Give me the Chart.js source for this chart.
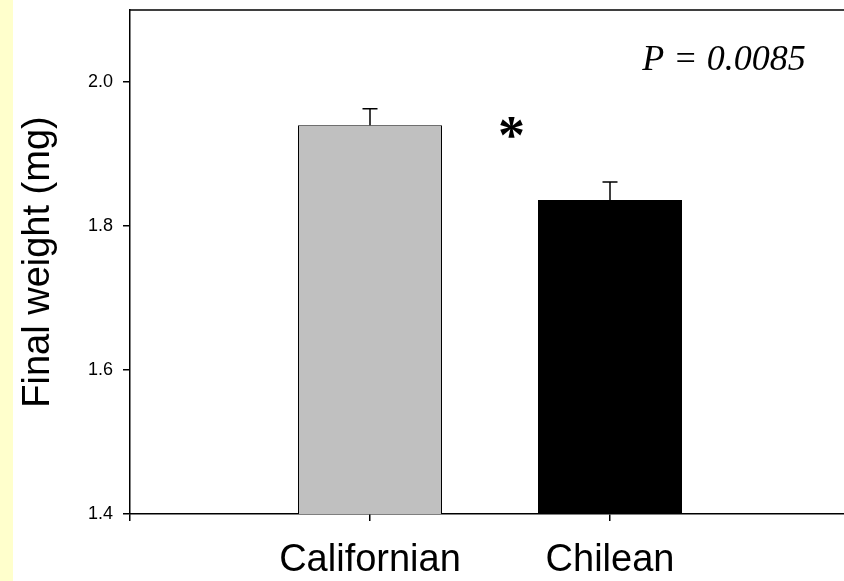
<!DOCTYPE html>
<html>
<head>
<meta charset="utf-8">
<script src="https://cdn.jsdelivr.net/npm/chart.js@4/dist/chart.umd.min.js"></script>
<style>
  html, body { margin: 0; padding: 0; background: #ffffff; overflow: hidden; width: 844px; height: 581px; }
  #wrap { width: 860px; height: 581px; }
</style>
</head>
<body>
<div id="wrap"><canvas id="c" width="860" height="581"></canvas></div>
<script>
// ---- data ----
const categories = ["Californian", "Chilean"];
const means = [1.940, 1.836];
const stdErrors = [0.023, 0.025];
const yTickValues = [1.4, 1.6, 1.8, 2.0];
const barColors = ["#c0c0c0", "#000000"];
const pLabel = "P = 0.0085";
const sigMark = "*";

// category axis with empty end slots (positions 0 and 3)
const labels = ["", ...categories, ""];
const barData = [null, ...means, null];
const errData = [null, ...stdErrors, null];
const colors = ["#ffffff", ...barColors, "#ffffff"];

const FONT = "Arial, 'Liberation Sans', Helvetica, sans-serif";

const bgPlugin = {
  id: 'bg',
  beforeDraw(chart) {
    const ctx = chart.ctx;
    ctx.save();
    ctx.fillStyle = '#ffffff';
    ctx.fillRect(0, 0, chart.width, chart.height);
    ctx.fillStyle = '#ffffcc';
    ctx.fillRect(0, 0, 13, chart.height);
    ctx.restore();
  }
};

const errorBarPlugin = {
  id: 'errorBars',
  afterDatasetsDraw(chart) {
    const ctx = chart.ctx;
    const meta = chart.getDatasetMeta(0);
    const y = chart.scales.y;
    ctx.save();
    ctx.strokeStyle = '#000000';
    ctx.lineWidth = 1.5;
    meta.data.forEach((bar, i) => {
      const v = barData[i], e = errData[i];
      if (v == null || e == null) return;
      const yTop = y.getPixelForValue(v + e);
      const yBase = y.getPixelForValue(v);
      ctx.beginPath();
      ctx.moveTo(bar.x, yBase);
      ctx.lineTo(bar.x, yTop);
      ctx.moveTo(bar.x - 7.5, yTop);
      ctx.lineTo(bar.x + 7.5, yTop);
      ctx.stroke();
    });
    ctx.restore();
  }
};

const framePlugin = {
  id: 'frame',
  afterDraw(chart) {
    const {ctx, chartArea, scales} = chart;
    ctx.save();
    ctx.strokeStyle = '#000000';
    ctx.lineWidth = 1.5;
    ctx.beginPath();
    ctx.moveTo(chartArea.left, chartArea.top);
    ctx.lineTo(chartArea.right, chartArea.top);
    ctx.lineTo(chartArea.right, chartArea.bottom);
    ctx.stroke();
    // annotations anchored to the scales
    ctx.fillStyle = '#000000';
    ctx.font = "italic 36px 'Times New Roman', 'Liberation Serif', serif";
    ctx.textAlign = 'center';
    ctx.textBaseline = 'alphabetic';
    ctx.fillText(pLabel, scales.x.getPixelForValue(2.475), scales.y.getPixelForValue(2.016));
    ctx.font = "bold 54px 'Times New Roman', 'Liberation Serif', serif";
    ctx.fillText(sigMark, scales.x.getPixelForValue(1.59), scales.y.getPixelForValue(1.901));
    ctx.restore();
  }
};

new Chart(document.getElementById('c'), {
  type: 'bar',
  data: {
    labels: labels,
    datasets: [{
      data: barData,
      backgroundColor: colors,
      borderColor: '#000000',
      borderWidth: 1,
      categoryPercentage: 0.6,
      barPercentage: 1.0
    }]
  },
  options: {
    responsive: false,
    animation: false,
    events: [],
    layout: { padding: { top: 10, right: 10, left: 0, bottom: 0 } },
    plugins: { legend: { display: false }, tooltip: { enabled: false } },
    scales: {
      x: {
        type: 'category',
        offset: false,
        grid: { display: true, offset: false, drawOnChartArea: false, drawTicks: true, tickLength: 7, color: '#000000', lineWidth: 1.5 },
        border: { display: true, color: '#000000', width: 1.5 },
        ticks: {
          autoSkip: false, maxRotation: 0, minRotation: 0, padding: 17,
          color: '#000000', font: { family: FONT, size: 38 },
          callback: (v, i) => labels[i]
        },
        afterFit(scale) { scale.height = 67; scale.paddingLeft = 0; scale.paddingRight = 0; }
      },
      y: {
        type: 'linear',
        min: 1.4,
        max: 2.1,
        grid: { display: true, drawOnChartArea: false, drawTicks: true, tickLength: 7, color: '#000000', lineWidth: 1.5 },
        border: { display: true, color: '#000000', width: 1.5 },
        afterBuildTicks(scale) { scale.ticks = yTickValues.map(v => ({ value: v })); },
        ticks: {
          padding: 10, color: '#000000', font: { family: FONT, size: 18 },
          callback: (v) => Number(v).toFixed(1)
        },
        title: {
          display: true, text: 'Final weight (mg)', color: '#000000',
          font: { family: FONT, size: 38, lineHeight: 1 },
          padding: { top: 20, bottom: 0 }
        },
        afterFit(scale) { scale.width = 130; scale.paddingTop = 0; scale.paddingBottom = 0; }
      }
    }
  },
  plugins: [bgPlugin, errorBarPlugin, framePlugin]
});
</script>
</body>
</html>
